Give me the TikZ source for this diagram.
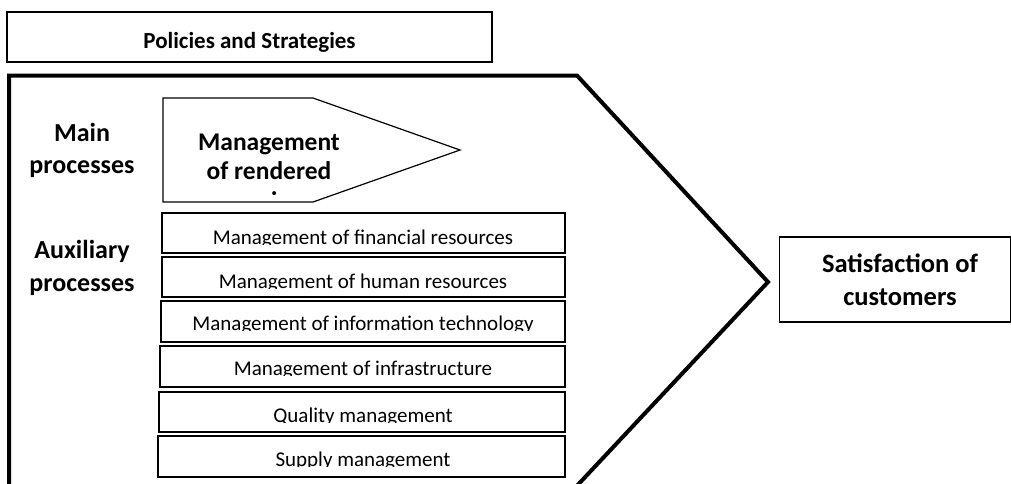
\documentclass[tikz,border=0pt]{standalone}
\usepackage{fontspec}
\setmainfont{Carlito}
\usepackage{tikz}

\begin{document}
\begin{tikzpicture}[x=1pt,y=-1pt,
  procbox/.style={draw, rectangle, inner sep=0pt},
  proctext/.style={anchor=base, inner sep=0pt, font=\fontsize{21}{25}\selectfont},
  headtext/.style={align=center, inner sep=0pt, font=\bfseries\fontsize{26}{32}\selectfont}]
\useasboundingbox (0,0) rectangle (1011,483);

% policies box, text cut at the bottom as in the original
\node[draw, rectangle, line width=1.5pt, minimum width=485pt, minimum height=50pt] (policies) at (249.5,37) {};
\begin{scope}
\clip (8,13) rectangle (491,52);
\node[anchor=base, inner sep=0pt, font=\bfseries\fontsize{23}{27}\selectfont] (policiestxt) at (249.5,48) {Policies and Strategies};
\end{scope}

% the big arrow
\draw[line width=4pt, line join=miter] (9,490) -- (9,75.5) -- (577,75.5) -- (768,282) -- (573,490);

% left labels (base = last line)
\node[headtext, anchor=base] (mainlbl) at (82,173.3) {Main\\processes};
\node[headtext, anchor=base, font=\bfseries\fontsize{26}{33}\selectfont] (auxlbl) at (82,291.7) {Auxiliary\\processes};

% main process
\draw[line width=1.2pt] (163,98) -- (313,98) -- (460,150) -- (313,202) -- (163,202) -- cycle;
\begin{scope}
\clip (164,99) rectangle (450,194);
\node[headtext, anchor=base, font=\bfseries\fontsize{25.5}{29.5}\selectfont] (rendered) at (269,209) {Management\\of rendered\\services};
\end{scope}

% auxiliary processes
\foreach \nm/\xl/\yt/\yb/\lw in {
  fin/162/213/253/1.2, hum/162/257/297/1.2, tech/161/301/342/1.5,
  infra/160/346/387/1.8, qual/159/392/432/1.8, supp/158/436/477/1.8}{
  \node[procbox, line width=\lw pt, minimum width={565-\xl}, minimum height={\yb-\yt}] (\nm) at ({(\xl+565)/2},{(\yt+\yb)/2}) {};
}
\foreach \nm/\yc/\txt in {
  fin/244/Management of financial resources,
  hum/288/Management of human resources,
  tech/330.5/Management of information technology,
  infra/375.5/Management of infrastructure,
  qual/422/Quality management,
  supp/466/Supply management}{
  \begin{scope}
  \clip (150,\yc-30) rectangle (570,\yc);
  \node[proctext] (\nm txt) at (363,\yc) {\txt};
  \end{scope}
}

% result
\node[draw, rectangle, line width=1.5pt, minimum width=231pt, minimum height=85pt] (satisf) at (895,279.5) {};
\node[headtext, anchor=base, font=\bfseries\fontsize{26.5}{33.4}\selectfont] (satisftxt) at (900,305.7) {Satisfaction of\\customers};
\end{tikzpicture}
\end{document}
